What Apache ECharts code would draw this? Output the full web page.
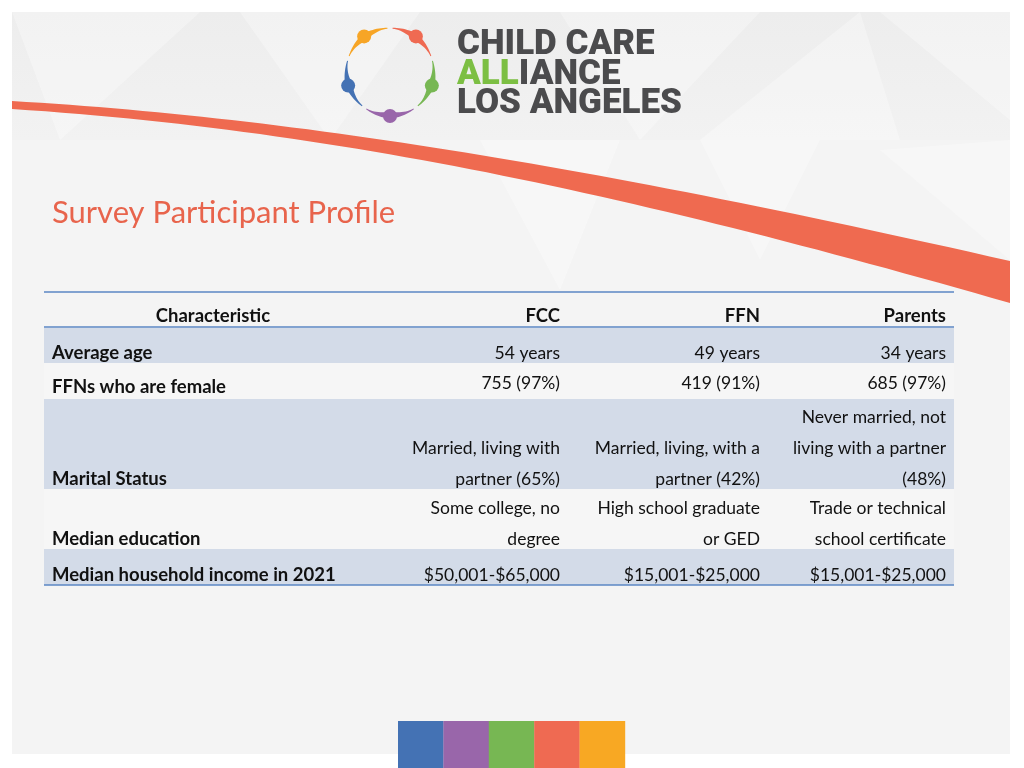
<!DOCTYPE html>
<html>
<head>
<meta charset="utf-8">
<script src="https://cdn.jsdelivr.net/npm/echarts@6/dist/echarts.min.js"></script>
<style>
  html, body { margin: 0; padding: 0; background: #ffffff; }
  #chart { width: 1024px; height: 768px; }
</style>
</head>
<body>
<div id="chart"></div>
<script>
// ---------------- DATA ----------------
const titleText = 'Survey Participant Profile';
const headers = ['Characteristic', 'FCC', 'FFN', 'Parents'];
const characteristics = [
  'Average age',
  'FFNs who are female',
  'Marital Status',
  'Median education',
  'Median household income in 2021'
];
const fccValues = [
  '54 years',
  '755 (97%)',
  'Married, living with\npartner (65%)',
  'Some college, no\ndegree',
  '$50,001-$65,000'
];
const ffnValues = [
  '49 years',
  '419 (91%)',
  'Married, living, with a\npartner (42%)',
  'High school graduate\nor GED',
  '$15,001-$25,000'
];
const parentsValues = [
  '34 years',
  '685 (97%)',
  'Never married, not\nliving with a partner\n(48%)',
  'Trade or technical\nschool certificate',
  '$15,001-$25,000'
];
const logoLines = ['CHILD CARE', 'ALLIANCE', 'LOS ANGELES'];
const brandColors = ['#4472b4', '#9966aa', '#77b753', '#ef6a52', '#f8a823'];

// ---------------- LAYOUT ----------------
const tableLeft = 44, tableRight = 954;
const headerTop = 292, headerBottom = 327;
const rowTops = [328, 363, 399, 489, 549];
const rowBottoms = [363, 399, 489, 549, 585];
const rowLastLineY = [353.5, 387.5, 479, 539, 575];
const labelX = 52;
const colRightX = [560, 760, 946];
const lineGap = 31;
const shadeColor = '#d3dbe8';
const plainColor = '#f6f6f6';
const ruleColor = '#5b87c5';
const fontFam = 'Lato, "Noto Sans", sans-serif';
const regSize = 17.5, boldSize = 18.5;

const chart = echarts.init(document.getElementById('chart'), null, { renderer: 'canvas' });
const g = [];

function txt(text, x, y, opts) {
  opts = opts || {};
  return {
    type: 'text',
    z: opts.z || 10,
    style: Object.assign({
      text: text, x: x, y: y,
      fill: opts.fill || '#111111',
      fontFamily: opts.fontFamily || fontFam,
      fontSize: opts.fontSize || regSize,
      fontWeight: opts.fontWeight || 'normal',
      align: opts.align || 'left', textAlign: opts.align || 'left',
      verticalAlign: 'middle', textVerticalAlign: 'middle'
    }, opts.extra || {})
  };
}
function cubic(p0, p1, p2, p3, n) {
  const pts = [];
  for (let i = 0; i <= n; i++) {
    const t = i / n, u = 1 - t;
    pts.push([
      u * u * u * p0[0] + 3 * u * u * t * p1[0] + 3 * u * t * t * p2[0] + t * t * t * p3[0],
      u * u * u * p0[1] + 3 * u * u * t * p1[1] + 3 * u * t * t * p2[1] + t * t * t * p3[1]
    ]);
  }
  return pts;
}

// slide background
g.push({ type: 'rect', z: 0, shape: { x: 12, y: 12, width: 998, height: 742 }, style: { fill: '#f4f4f4' } });
// top band, subtle
g.push({ type: 'rect', z: 1, shape: { x: 12, y: 12, width: 998, height: 128 },
  style: { fill: new echarts.graphic.LinearGradient(0, 0, 0, 1, [
    { offset: 0, color: '#ededed' }, { offset: 1, color: '#f2f2f2' }]) } });
// faint triangles
const tris = [
  [[12, 12], [200, 12], [60, 140]],
  [[240, 12], [420, 12], [330, 140]],
  [[560, 12], [760, 12], [640, 140]],
  [[700, 140], [860, 12], [900, 140]],
  [[880, 12], [1010, 12], [1010, 120]],
  [[480, 140], [620, 140], [560, 290]],
  [[700, 140], [820, 140], [760, 260]],
  [[880, 150], [1010, 140], [1010, 260]]
];
tris.forEach(function (p) {
  g.push({ type: 'polygon', z: 2, shape: { points: p }, style: { fill: '#ffffff', opacity: 0.3 } });
});

// orange swoosh
const topEdge = cubic([12, 101], [300, 118], [600, 168], [1010, 261], 60);
const botEdge = cubic([1010, 303], [650, 200], [350, 131], [12, 109], 60);
g.push({ type: 'polygon', z: 3, shape: { points: topEdge.concat(botEdge) }, style: { fill: '#ef6a50' } });

// logo ring: five tapered figures
const cx = 390, cy = 72, r = 44;
const headAngles = [-126, -54, 18, 90, 162];
const headColors = ['#f7a526', '#ef6a52', '#77b753', '#9966aa', '#4472b4'];
headAngles.forEach(function (a, i) {
  const rad = a * Math.PI / 180;
  const span = 0.57, n = 24;
  const outer = [], inner = [];
  for (let k = 0; k <= n; k++) {
    const off = -span + 2 * span * k / n;
    const w = 0.6 + 4.2 * Math.pow(1 - Math.abs(off) / span, 1.4);
    const th = rad + off;
    outer.push([cx + Math.cos(th) * (r + w * 0.6), cy + Math.sin(th) * (r + w * 0.6)]);
    inner.unshift([cx + Math.cos(th) * (r - w), cy + Math.sin(th) * (r - w)]);
  }
  g.push({ type: 'polygon', z: 5, shape: { points: outer.concat(inner) }, style: { fill: headColors[i] } });
  g.push({ type: 'circle', z: 6,
    shape: { cx: cx + Math.cos(rad) * r, cy: cy + Math.sin(rad) * r, r: 7 },
    style: { fill: headColors[i] } });
});
// logo text
const logoFont = { fontFamily: 'Roboto, "Liberation Sans", sans-serif', fontSize: 35, fontWeight: 900, fill: '#4b4b4d' };
g.push(txt(logoLines[0], 457, 45, Object.assign({}, logoFont)));
g.push({ type: 'text', z: 10, style: {
  text: '{g|' + logoLines[1].slice(0, 3) + '}{d|' + logoLines[1].slice(3) + '}', x: 457, y: 75,
  verticalAlign: 'middle', textVerticalAlign: 'middle',
  rich: {
    g: { fontFamily: logoFont.fontFamily, fontSize: 35, fontWeight: 900, fill: '#7cbf43' },
    d: { fontFamily: logoFont.fontFamily, fontSize: 35, fontWeight: 900, fill: '#4b4b4d' }
  } } });
g.push(txt(logoLines[2], 457, 104, Object.assign({}, logoFont)));

// title
g.push(txt(titleText, 52, 213, { fontSize: 31, fill: '#e8644c', fontFamily: fontFam }));

// rows background
characteristics.forEach(function (c, i) {
  g.push({ type: 'rect', z: 4,
    shape: { x: tableLeft, y: rowTops[i], width: tableRight - tableLeft, height: rowBottoms[i] - rowTops[i] },
    style: { fill: i % 2 === 0 ? shadeColor : plainColor } });
});
// rules
[headerTop, headerBottom, 585].forEach(function (y) {
  g.push({ type: 'line', z: 8, shape: { x1: tableLeft, y1: y, x2: tableRight, y2: y },
    style: { stroke: ruleColor, lineWidth: 1.5 } });
});
// header
g.push(txt(headers[0], 213, 316.5, { fontWeight: 'bold', fontSize: boldSize, align: 'center' }));
for (let k = 1; k < headers.length; k++) {
  g.push(txt(headers[k], colRightX[k - 1], 316.5, { fontWeight: 'bold', fontSize: boldSize, align: 'right' }));
}
// body
const cols = [fccValues, ffnValues, parentsValues];
characteristics.forEach(function (c, i) {
  g.push(txt(c, labelX, rowLastLineY[i], { fontWeight: 'bold', fontSize: boldSize }));
  cols.forEach(function (arr, k) {
    const lines = arr[i].split('\n');
    lines.forEach(function (ln, j) {
      const y = (i === 1 ? rowLastLineY[i] - 4 : rowLastLineY[i]) - (lines.length - 1 - j) * lineGap;
      g.push(txt(ln, colRightX[k], y, { align: 'right' }));
    });
  });
});

// brand colour strip
brandColors.forEach(function (col, i) {
  g.push({ type: 'rect', z: 5, shape: { x: 398 + i * 45.4, y: 721, width: 45.6, height: 47 }, style: { fill: col } });
});

chart.setOption({ animation: false, backgroundColor: '#ffffff', graphic: { elements: g } });
</script>
</body>
</html>
